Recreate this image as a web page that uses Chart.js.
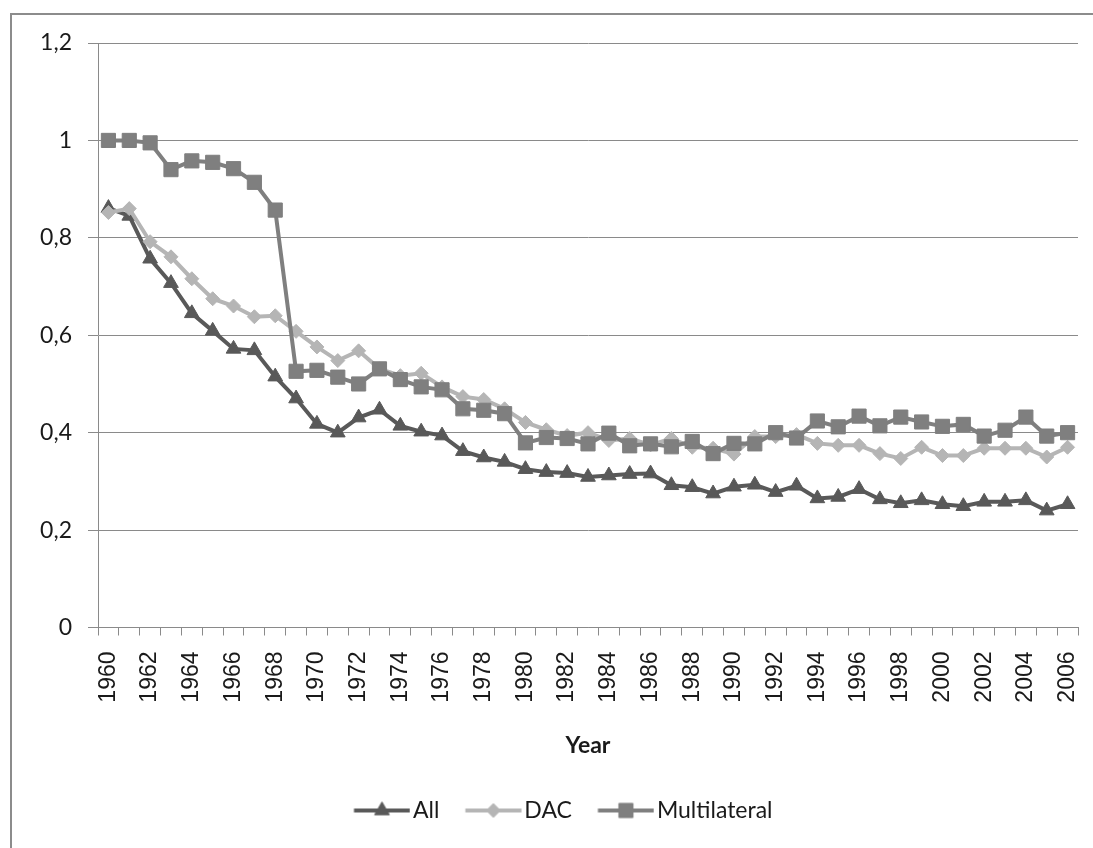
<!DOCTYPE html>
<html>
<head>
<meta charset="utf-8">
<title>Share by year</title>
<script src="https://cdn.jsdelivr.net/npm/chart.js@4/dist/chart.umd.min.js"></script>
<style>
  html, body { margin: 0; padding: 0; background: #ffffff; }
  #wrap { width: 1093px; height: 848px; position: relative; }
</style>
</head>
<body>
<div id="wrap"><canvas id="chart" width="1093" height="848"></canvas></div>
<script>
// Years on the horizontal axis
const years = [
  1960, 1961, 1962, 1963, 1964, 1965, 1966, 1967, 1968, 1969,
  1970, 1971, 1972, 1973, 1974, 1975, 1976, 1977, 1978, 1979,
  1980, 1981, 1982, 1983, 1984, 1985, 1986, 1987, 1988, 1989,
  1990, 1991, 1992, 1993, 1994, 1995, 1996, 1997, 1998, 1999,
  2000, 2001, 2002, 2003, 2004, 2005, 2006
];

// Series values, one per year
const allDonors = [
  0.861, 0.845, 0.757, 0.707, 0.645, 0.609, 0.572, 0.569, 0.515, 0.470,
  0.418, 0.400, 0.431, 0.447, 0.414, 0.402, 0.394, 0.362, 0.349, 0.340,
  0.325, 0.319, 0.317, 0.309, 0.312, 0.315, 0.316, 0.292, 0.288, 0.275,
  0.289, 0.293, 0.278, 0.291, 0.265, 0.268, 0.284, 0.263, 0.255, 0.261,
  0.253, 0.249, 0.258, 0.258, 0.261, 0.240, 0.253
];
const dacDonors = [
  0.852, 0.860, 0.792, 0.761, 0.716, 0.675, 0.660, 0.638, 0.640, 0.608,
  0.576, 0.548, 0.568, 0.531, 0.517, 0.522, 0.494, 0.474, 0.468, 0.449,
  0.421, 0.406, 0.394, 0.400, 0.384, 0.388, 0.375, 0.388, 0.370, 0.368,
  0.356, 0.392, 0.392, 0.396, 0.378, 0.374, 0.374, 0.357, 0.347, 0.370,
  0.353, 0.353, 0.368, 0.368, 0.368, 0.350, 0.370
];
const multilateralDonors = [
  1.000, 1.000, 0.995, 0.940, 0.958, 0.955, 0.942, 0.914, 0.857, 0.526,
  0.528, 0.514, 0.500, 0.531, 0.509, 0.494, 0.488, 0.449, 0.446, 0.439,
  0.379, 0.390, 0.388, 0.377, 0.399, 0.373, 0.377, 0.371, 0.382, 0.357,
  0.378, 0.377, 0.400, 0.389, 0.424, 0.412, 0.434, 0.414, 0.432, 0.422,
  0.413, 0.417, 0.393, 0.405, 0.432, 0.393, 0.400
];

// Value axis ticks
const yTicks = [0, 0.2, 0.4, 0.6, 0.8, 1.0, 1.2];

const seriesNames = ['All', 'DAC', 'Multilateral'];

const AXIS_GRAY = '#8a8a8a';
const TEXT = '#1a1a1a';

const styles = [
  { color: '#595959', pointStyle: 'triangle', radius: 8.5 },
  { color: '#b5b5b5', pointStyle: 'rectRot', radius: 7 },
  { color: '#7f7f7f', pointStyle: 'rect', radius: 10 }
];
const seriesData = [allDonors, dacDonors, multilateralDonors];

// Legend swatch: a short line with the series marker in its middle
function legendSwatch(style) {
  const c = document.createElement('canvas');
  c.width = 70; c.height = 26;
  const ctx = c.getContext('2d');
  ctx.strokeStyle = style.color;
  ctx.lineWidth = 4;
  ctx.beginPath();
  ctx.moveTo(13.5, 13);
  ctx.lineTo(69.5, 13);
  ctx.stroke();
  ctx.fillStyle = style.color;
  ctx.strokeStyle = style.color;
  ctx.lineWidth = 1;
  Chart.helpers.drawPoint(ctx, {
    pointStyle: style.pointStyle,
    radius: style.radius,
    rotation: 0,
    borderWidth: 1
  }, 41.5, 13);
  return c;
}

// Outer frame of the chart box
const framePlugin = {
  id: 'frame',
  beforeDraw(chart) {
    const ctx = chart.ctx;
    ctx.save();
    ctx.strokeStyle = '#8c8c8c';
    ctx.lineWidth = 2;
    ctx.strokeRect(11, 14, 1200, 1000);
    ctx.restore();
  }
};

// Legend row sits a little right of the canvas centre
const legendShift = {
  id: 'legendShift',
  afterLayout(chart) {
    const lg = chart.legend;
    if (lg) { lg.left += 17; lg.right += 17; }
  }
};

const datasets = seriesNames.map((name, i) => ({
  label: name,
  data: seriesData[i],
  borderColor: styles[i].color,
  backgroundColor: styles[i].color,
  borderWidth: 4,
  tension: 0,
  pointStyle: styles[i].pointStyle,
  pointRadius: styles[i].radius,
  pointHoverRadius: styles[i].radius,
  pointBackgroundColor: styles[i].color,
  pointBorderColor: styles[i].color,
  pointBorderWidth: 1,
  order: 2 - i
}));

new Chart(document.getElementById('chart'), {
  type: 'line',
  data: { labels: years.map(String), datasets },
  plugins: [framePlugin, legendShift],
  options: {
    responsive: false,
    animation: false,
    devicePixelRatio: 1,
    layout: {
      autoPadding: false,
      padding: { left: 10, right: 15, top: 43, bottom: 16 }
    },
    plugins: {
      tooltip: { enabled: false },
      legend: {
        display: true,
        position: 'bottom',
        labels: {
          usePointStyle: true,
          pointStyleWidth: 52,
          padding: 21.5,
          color: TEXT,
          font: { family: 'Lato', size: 23 },
          generateLabels(chart) {
            return chart.data.datasets.map((ds, i) => ({
              text: ds.label,
              fillStyle: styles[i].color,
              strokeStyle: styles[i].color,
              lineWidth: 0,
              pointStyle: legendSwatch(styles[i]),
              hidden: false,
              datasetIndex: i,
              fontColor: TEXT
            }));
          }
        }
      }
    },
    scales: {
      x: {
        type: 'category',
        offset: true,
        grid: {
          display: true,
          offset: true,
          drawOnChartArea: false,
          drawTicks: true,
          tickLength: 8,
          color: AXIS_GRAY,
          lineWidth: 1
        },
        border: { display: true, color: AXIS_GRAY, width: 1 },
        ticks: {
          autoSkip: false,
          minRotation: 90,
          maxRotation: 90,
          padding: 16,
          color: TEXT,
          font: { family: 'Liberation Sans', size: 23 },
          callback: (v, i) => (i % 2 === 0 ? String(years[i]) : '')
        },
        title: {
          display: true,
          text: 'Year',
          color: TEXT,
          font: { family: 'Lato', size: 23, weight: 'bold' },
          padding: { top: 0, bottom: 18 }
        },
        afterFit(scale) {
          scale.height = 150;
          scale.paddingLeft = 0;
          scale.paddingRight = 0;
        }
      },
      y: {
        min: yTicks[0],
        max: yTicks[yTicks.length - 1],
        afterBuildTicks(scale) {
          scale.ticks = yTicks.map(v => ({ value: v }));
        },
        grid: {
          color: AXIS_GRAY,
          lineWidth: 1,
          drawTicks: true,
          tickLength: 10
        },
        border: { display: true, color: AXIS_GRAY, width: 1 },
        ticks: {
          padding: 16,
          color: TEXT,
          font: { family: 'Lato', size: 23 },
          callback: v => String(Number(v.toFixed(1))).replace('.', ',')
        },
        afterFit(scale) {
          scale.width = 88;
          scale.paddingTop = 0;
          scale.paddingBottom = 0;
        }
      }
    }
  }
});
</script>
</body>
</html>
